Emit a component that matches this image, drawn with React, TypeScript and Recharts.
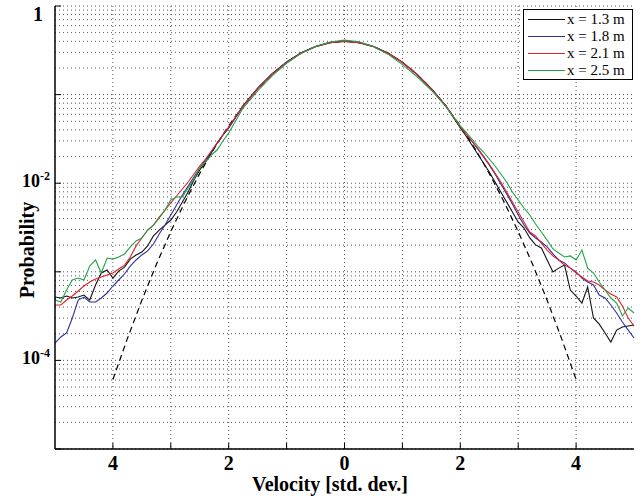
import React from 'react';
import { LineChart, Line, XAxis, YAxis, CartesianGrid, Legend, Label } from 'recharts';

// x positions (std. dev.): fine steps in the noisy tails, coarser in the smooth core
const velocity = [
  -5, -4.9, -4.8, -4.7, -4.6, -4.5, -4.4, -4.3, -4.2, -4.1, -4, -3.9, -3.8, -3.7, -3.6, -3.5,
  -3.4, -3.3, -3.2, -3.1, -3, -2.9, -2.8, -2.7, -2.6, -2.5, -2.4, -2.3, -2.2, -2.1, -2,
  -1.75, -1.5, -1.25, -1, -0.75, -0.5, -0.25, 0, 0.25, 0.5, 0.75, 1, 1.25, 1.5, 1.75,
  2, 2.1, 2.2, 2.3, 2.4, 2.5, 2.6, 2.7, 2.8, 2.9, 3, 3.1, 3.2, 3.3, 3.4, 3.5,
  3.6, 3.7, 3.8, 3.9, 4, 4.1, 4.2, 4.3, 4.4, 4.5, 4.6, 4.7, 4.8, 4.9, 5,
];

const x13 = [
  5.19e-4, 5.06e-4, 5.33e-4, 5.06e-4, 5.19e-4, 5.47e-4, 4.8e-4, 7.1e-4, 9.69e-4, 1.05e-3, 8.51e-4,
  1.02e-3, 1.13e-3, 1.39e-3, 1.55e-3, 1.67e-3, 1.96e-3, 2.54e-3, 2.96e-3, 3.37e-3, 3.84e-3, 4.73e-3,
  6.14e-3, 7.96e-3, 1.087e-2, 1.409e-2, 1.735e-2, 2.192e-2, 2.843e-2, 3.499e-2, 4.198e-2,
  0.075, 0.118, 0.172, 0.233, 0.296, 0.35, 0.388, 0.402, 0.388, 0.35, 0.295, 0.232, 0.17, 0.117, 0.0745,
  4.198e-2, 3.41e-2, 2.698e-2, 2.136e-2, 1.69e-2, 1.338e-2, 1.032e-2, 7.96e-3, 6.14e-3, 4.73e-3,
  3.65e-3, 3.12e-3, 2.41e-3, 2.01e-3, 1.86e-3, 1.36e-3, 9.95e-4, 1.1e-3, 1.19e-3, 6.23e-4, 5.33e-4,
  4.44e-4, 6.74e-4, 3.01e-4, 2.57e-4, 2.04e-4, 1.61e-4, 2.2e-4, 2.38e-4, 2.44e-4, 2.51e-4,
];

const x18 = [
  1.57e-4, 1.84e-4, 2.04e-4, 3.01e-4, 4.8e-4, 5.19e-4, 4.56e-4, 4.56e-4, 5.06e-4, 5.76e-4, 6.91e-4,
  8.08e-4, 9.44e-4, 1.16e-3, 1.36e-3, 1.55e-3, 1.72e-3, 2.06e-3, 2.67e-3, 3.37e-3, 4.38e-3, 5.68e-3,
  7.36e-3, 9.3e-3, 1.175e-2, 1.484e-2, 1.827e-2, 2.249e-2, 2.843e-2, 3.499e-2, 4.198e-2,
  0.0745, 0.117, 0.171, 0.232, 0.294, 0.348, 0.386, 0.4, 0.386, 0.349, 0.294, 0.231, 0.169, 0.116, 0.0745,
  4.308e-2, 3.592e-2, 2.995e-2, 2.432e-2, 1.976e-2, 1.605e-2, 1.27e-2, 9.8e-3, 7.55e-3, 5.82e-3,
  4.38e-3, 3.37e-3, 2.74e-3, 2.41e-3, 2.17e-3, 1.91e-3, 1.59e-3, 1.36e-3, 1.26e-3, 1.1e-3, 9.95e-4,
  8.51e-4, 7.67e-4, 7.1e-4, 5.47e-4, 5.06e-4, 4.22e-4, 3.43e-4, 2.71e-4, 2.2e-4, 1.79e-4,
];

const x21 = [
  4.22e-4, 4.22e-4, 4.8e-4, 5.33e-4, 6.07e-4, 6.91e-4, 7.67e-4, 8.3e-4, 8.74e-4, 9.2e-4, 9.69e-4,
  1.075e-3, 1.19e-3, 1.47e-3, 1.96e-3, 2.41e-3, 2.96e-3, 3.37e-3, 4.15e-3, 4.98e-3, 5.98e-3, 7.17e-3,
  8.6e-3, 1.032e-2, 1.27e-2, 1.563e-2, 1.875e-2, 2.309e-2, 2.843e-2, 3.499e-2, 4.308e-2,
  0.0748, 0.117, 0.17, 0.231, 0.293, 0.347, 0.385, 0.398, 0.386, 0.348, 0.293, 0.23, 0.169, 0.116, 0.0748,
  4.308e-2, 3.592e-2, 2.995e-2, 2.496e-2, 2.028e-2, 1.647e-2, 1.303e-2, 1.032e-2, 7.96e-3, 6.14e-3,
  4.73e-3, 3.65e-3, 2.81e-3, 2.54e-3, 2.11e-3, 1.76e-3, 1.51e-3, 1.36e-3, 1.19e-3, 1.1e-3, 9.69e-4,
  8.74e-4, 7.87e-4, 7.67e-4, 7.1e-4, 6.23e-4, 5.62e-4, 5.19e-4, 4.11e-4, 3.01e-4, 2.44e-4,
];

const x25 = [
  4.8e-4, 4.56e-4, 6.23e-4, 8.08e-4, 8.51e-4, 8.08e-4, 1.16e-3, 1.36e-3, 9.69e-4, 1.43e-3, 1.39e-3,
  1.47e-3, 1.59e-3, 1.91e-3, 2.23e-3, 2.41e-3, 2.96e-3, 3.37e-3, 4.05e-3, 4.98e-3, 6.46e-3, 6.99e-3,
  6.99e-3, 8.83e-3, 1.115e-2, 1.484e-2, 1.735e-2, 2.081e-2, 2.369e-2, 2.995e-2, 3.687e-2,
  0.071, 0.11, 0.163, 0.226, 0.292, 0.35, 0.392, 0.412, 0.395, 0.35, 0.286, 0.218, 0.16, 0.112, 0.073,
  4.422e-2, 3.784e-2, 3.154e-2, 2.629e-2, 2.249e-2, 1.875e-2, 1.563e-2, 1.27e-2, 1.032e-2, 7.96e-3,
  6.46e-3, 5.25e-3, 4.38e-3, 3.46e-3, 2.81e-3, 2.28e-3, 1.81e-3, 1.63e-3, 1.47e-3, 1.51e-3, 1.36e-3,
  1.76e-3, 1.1e-3, 9.69e-4, 7.67e-4, 6.23e-4, 5.06e-4, 4.44e-4, 3.17e-4, 3.9e-4, 3.43e-4,
];

// dashed reference curve
const gaussX = [
  -4, -3.75, -3.5, -3.25, -3, -2.75, -2.5, -2.25, -2, -1.75, -1.5, -1.25, -1, -0.75, -0.5, -0.25, 0,
  0.25, 0.5, 0.75, 1, 1.25, 1.5, 1.75, 2, 2.25, 2.5, 2.75, 3, 3.25, 3.5, 3.75, 4,
];
const gaussP = [
  6.08e-5, 1.76e-4, 4.77e-4, 1.207e-3, 2.85e-3, 6.27e-3, 1.29e-2, 2.48e-2, 4.44e-2, 7.44e-2, 0.1162,
  0.1695, 0.2309, 0.2936, 0.3486, 0.3865, 0.4, 0.3865, 0.3486, 0.2936, 0.2309, 0.1695, 0.1162, 7.44e-2,
  4.44e-2, 2.48e-2, 1.29e-2, 6.27e-3, 2.85e-3, 1.207e-3, 4.77e-4, 1.76e-4, 6.08e-5,
];

const series = [
  { key: 'x13', name: 'x = 1.3 m', color: '#111111', values: x13 },
  { key: 'x18', name: 'x = 1.8 m', color: '#2e2e9e', values: x18 },
  { key: 'x21', name: 'x = 2.1 m', color: '#e4202a', values: x21 },
  { key: 'x25', name: 'x = 2.5 m', color: '#21a345', values: x25 },
];

const xTicks = [-4, -3, -2, -1, 0, 1, 2, 3, 4];
const xGrid = [-4, -3, -2, -1, 0, 1, 2, 3, 4];
const decades = [1e-5, 1e-4, 1e-3, 1e-2, 1e-1, 1];
const yLabels: Record<string, string> = { '1': '1', '0.01': '-2', '0.0001': '-4' };
const yGrid = decades.slice(0, -1).flatMap((d) => [1, 2, 3, 4, 5, 6, 7, 8, 9].map((m) => m * d)).concat([1]);

const rows = velocity.map((v, i) => {
  const row: Record<string, number> = { v };
  series.forEach((s) => (row[s.key] = s.values[i]));
  return row;
});
const gaussRows = gaussX.map((v, i) => ({ v, p: gaussP[i] }));

const FONT = '"Liberation Serif", "Times New Roman", serif';

function YTick(props: any) {
  const { x, y, payload } = props;
  const lab = yLabels[String(payload.value)];
  if (!lab) return <g />;
  if (lab === '1') {
    return (
      <text x={x - 7} y={y + 15} textAnchor="end" fontFamily={FONT} fontWeight="bold" fontSize={20} fill="#000">
        1
      </text>
    );
  }
  return (
    <text x={x} y={y + 4} textAnchor="end" fontFamily={FONT} fontWeight="bold" fontSize={18} fill="#000">
      10
      <tspan dy={-7} fontSize={12}>{lab}</tspan>
    </text>
  );
}

function LegendBox() {
  return (
    <div
      style={{
        border: '1px solid #000',
        background: '#fff',
        width: 110,
        height: 71,
        boxSizing: 'border-box',
        padding: '1px 0 0 4px',
        fontFamily: FONT,
        fontSize: 15,
        color: '#000',
      }}
    >
      {series.map((s) => (
        <div key={s.key} style={{ display: 'flex', alignItems: 'center', height: 17 }}>
          <svg width={37} height={3}>
            <line x1={0} y1={1.5} x2={37} y2={1.5} stroke={s.color} strokeWidth={1.2} />
          </svg>
          <span style={{ marginLeft: 2, lineHeight: '17px', whiteSpace: 'nowrap' }}>{s.name}</span>
        </div>
      ))}
    </div>
  );
}

export default function App() {
  return (
    <div style={{ position: 'absolute', left: 0, top: 0, background: '#fff' }}>
      <LineChart width={641} height={503} data={rows} margin={{ top: 6, right: 7, left: 0, bottom: 0 }}>
        <CartesianGrid
          horizontalValues={yGrid}
          verticalValues={xGrid}
          stroke="#555"
          strokeDasharray="1 3"
        />
        <XAxis
          dataKey="v"
          type="number"
          domain={[-5, 5]}
          ticks={xTicks}
          interval={0}
          height={54}
          tickSize={-6}
          tickMargin={13}
          tickFormatter={(v: number) => (v % 2 === 0 ? String(Math.abs(v)) : '')}
          tick={{ fontSize: 20, fontWeight: 'bold', fill: '#000', fontFamily: FONT }}
          axisLine={{ stroke: '#000', strokeWidth: 1.5 }}
          tickLine={{ stroke: '#000' }}
        >
          <Label
            content={() => (
              <text x={330} y={491} textAnchor="middle" fontFamily={FONT} fontWeight="bold" fontSize={20} fill="#000">
                Velocity [std. dev.]
              </text>
            )}
          />
        </XAxis>
        <XAxis
          xAxisId="top"
          orientation="top"
          type="number"
          domain={[-5, 5]}
          ticks={xTicks}
          height={0}
          tick={false}
          tickSize={-6}
          axisLine={{ stroke: '#000', strokeWidth: 1.2 }}
          tickLine={{ stroke: '#000' }}
        />
        <YAxis
          scale="log"
          type="number"
          domain={[1e-5, 1]}
          ticks={decades}
          interval={0}
          width={55}
          tickSize={-6}
          tickMargin={11}
          tick={<YTick />}
          axisLine={{ stroke: '#000', strokeWidth: 1.5 }}
          tickLine={{ stroke: '#000' }}
        >
          <Label
            content={() => (
              <text
                x={34}
                y={250}
                transform="rotate(-90, 34, 250)"
                textAnchor="middle"
                fontFamily={FONT}
                fontWeight="bold"
                fontSize={20}
                fill="#000"
              >
                Probability
              </text>
            )}
          />
        </YAxis>
        <YAxis
          yAxisId="right"
          orientation="right"
          scale="log"
          type="number"
          domain={[1e-5, 1]}
          ticks={decades}
          width={0}
          tick={false}
          tickSize={-6}
          axisLine={{ stroke: '#000', strokeWidth: 1.2 }}
          tickLine={{ stroke: '#000' }}
        />
        <Line
          data={gaussRows}
          dataKey="p"
          stroke="#000"
          strokeWidth={1.2}
          strokeDasharray="6 4"
          dot={false}
          activeDot={false}
          isAnimationActive={false}
        />
        {series.map((s) => (
          <Line
            key={s.key}
            dataKey={s.key}
            name={s.name}
            stroke={s.color}
            strokeWidth={1.1}
            dot={false}
            activeDot={false}
            isAnimationActive={false}
          />
        ))}
        <Legend
          layout="vertical"
          align="center"
          verticalAlign="middle"
          content={() => <LegendBox />}
          wrapperStyle={{ left: 523, top: 9, width: 110, height: 71 }}
        />
      </LineChart>
    </div>
  );
}
